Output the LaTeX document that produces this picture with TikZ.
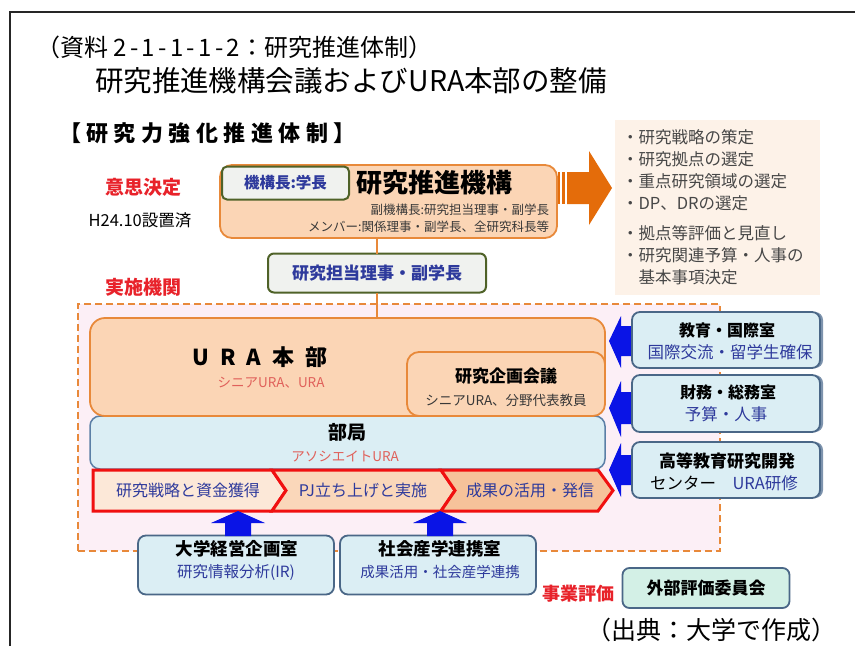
\documentclass[tikz,border=0pt]{standalone}
\usepackage{fontspec}
\setmainfont{Noto Sans CJK JP}
\usetikzlibrary{shadows}
\definecolor{peach}{HTML}{FBD5B5}
\definecolor{orb}{HTML}{E8893A}
\definecolor{ordk}{HTML}{E46C0A}
\definecolor{pinkbg}{HTML}{FCEFF6}
\definecolor{beige}{HTML}{FDF2E8}
\definecolor{lblue}{HTML}{DBEEF4}
\definecolor{slate}{HTML}{4A6787}
\definecolor{bukb}{HTML}{5B7FA6}
\definecolor{olive}{HTML}{4F6228}
\definecolor{grayg}{HTML}{F0F2EF}
\definecolor{txtblue}{HTML}{2E3A9C}
\definecolor{redt}{HTML}{E8222A}
\definecolor{salmon}{HTML}{E0605A}
\definecolor{tealbg}{HTML}{D3F0E6}
\definecolor{arrblue}{HTML}{0A14E6}
\definecolor{chevA}{HTML}{FCE8D8}
\definecolor{chevB}{HTML}{FAD7BA}
\definecolor{chevC}{HTML}{F6C29A}
\definecolor{shad}{HTML}{7D93AD}
\definecolor{chevred}{HTML}{F01010}
\newcommand\fsz[1]{\fontsize{#1}{#1}\selectfont}
\tikzset{
  obox/.style={draw=orb, fill=peach, line width=1.8pt, rounded corners=12pt},
  gbox/.style={draw=olive, fill=grayg, line width=2pt, rounded corners=6pt},
  bbox/.style={draw=slate, fill=lblue, line width=1.8pt, rounded corners=8pt},
  sbox/.style={bbox, drop shadow={shadow xshift=3pt, shadow yshift=0pt, fill=shad, opacity=1}},
  chev/.style={draw=chevred, line width=3pt, line join=miter},
  barr/.style={fill=arrblue},
  listtxt/.style={anchor=west, text=black!72},
}
\begin{document}
\begin{tikzpicture}[x=1pt,y=-1pt, every node/.style={inner sep=0pt, outer sep=0pt}]
\useasboundingbox (0,0) rectangle (855,646);
\fill[white] (0,0) rectangle (855,646);
\draw[line width=1.6pt, black!85] (10,646) -- (10,12) -- (855,12);

% headings
\node[anchor=west] (hdr) at (36,47) {\fsz{24}（資料 {\addfontfeature{LetterSpace=14}2-1-1-1-2}：研究推進体制）};
\node[anchor=west] (ttl) at (95,81) {\fsz{28.5}研究推進機構会議およびURA本部の整備};
\node[anchor=west] (sub) at (59,133) {\fsz{22}\bfseries\addfontfeature{LetterSpace=25}【研究力強化推進体制】};

% left labels
\node[text=redt] (ishi) at (143,187) {\fsz{19}\bfseries 意思決定};
\node (h24) at (140,220) {\fsz{16.5}H24.10設置済};
\node[text=redt] (jisshi) at (143,287) {\fsz{19}\bfseries 実施機関};

% list box
\node[fill=beige, minimum width=205pt, minimum height=175pt, anchor=north west] (list) at (615,120) {};
\node[listtxt] (l1) at (622,137) {\fsz{16.5}・研究戦略の策定};
\node[listtxt] (l2) at (622,159) {\fsz{16.5}・研究拠点の選定};
\node[listtxt] (l3) at (622,181) {\fsz{16.5}・重点研究領域の選定};
\node[listtxt] (l4) at (622,203) {\fsz{16.5}・DP、DRの選定};
\node[listtxt] (l5) at (622,233) {\fsz{16.5}・拠点等評価と見直し};
\node[listtxt] (l6) at (622,255) {\fsz{16.5}・研究関連予算・人事の};
\node[listtxt] (l7) at (622,277) {\fsz{16.5}\hspace{16.5pt}基本事項決定};

% orange block arrow
\fill[ordk] (558,172) rectangle (560,204);
\fill[ordk] (562,172) rectangle (565,204);
\fill[ordk] (567,172) -- (589,172) -- (589,151) -- (612,188) -- (589,225) -- (589,204) -- (567,204) -- cycle;

% implementation region
\node[draw=orb, fill=pinkbg, line width=2pt, dash pattern=on 7pt off 4pt, minimum width=642pt, minimum height=247pt, anchor=north west] (region) at (78,304) {};

% top boxes
\node[obox, minimum width=337pt, minimum height=73pt] (kikou) at (388.5,201.5) {};
\node[gbox, minimum width=127pt, minimum height=33pt, rounded corners=5pt, text=txtblue] (chou) at (285.5,183) {\fsz{15.5}\bfseries 機構長:学長};
\node[anchor=west] (kname) at (356,183) {\fsz{26}\bfseries 研究推進機構};
\node[anchor=east, text=black!78] (k2) at (549,210) {\fsz{12.5}副機構長:研究担当理事・副学長};
\node[anchor=east, text=black!78] (k3) at (549,227) {\fsz{12.5}メンバー:関係理事・副学長、全研究科長等};

\node[gbox, minimum width=218pt, minimum height=39pt, text=txtblue] (riji) at (377,273) {\fsz{17}\bfseries 研究担当理事・副学長};

% bukyoku and URA
\node[draw=bukb, fill=lblue, line width=1.5pt, rounded corners=10pt, minimum width=515pt, minimum height=53pt] (bukyoku) at (347.5,442.5) {};
\node[obox, minimum width=515pt, minimum height=98pt, rounded corners=15pt] (ura) at (347.5,367) {};
\node[obox, minimum width=198pt, minimum height=64pt] (kikaku) at (506,384) {};

\draw[orb, line width=2pt] (riji.north |- kikou.south) -- (riji.north);
\draw[orb, line width=2pt] (riji.south) -- (riji.south |- ura.north);

\node (uraname) at (260,357) {\fsz{22}\bfseries\addfontfeature{LetterSpace=50}URA本部};
\node[text=salmon] (uramem) at (271,383) {\fsz{13.5}シニアURA、URA};
\node (kikakut) at (506,376) {\fsz{17}\bfseries 研究企画会議};
\node[text=black!78] (kikakum) at (506,400) {\fsz{13.5}シニアURA、分野代表教員};
\node (bukt) at (347,432) {\fsz{19}\bfseries 部局};
\node[text=salmon] (bukm) at (345,456) {\fsz{13.5}アソシエイトURA};

% chevrons
\filldraw[chev, fill=chevA] (93,470) -- (272,470) -- (286,490.5) -- (272,511) -- (93,511) -- cycle;
\filldraw[chev, fill=chevB] (272,470) -- (441,470) -- (455,490.5) -- (441,511) -- (272,511) -- (286,490.5) -- cycle;
\filldraw[chev, fill=chevC] (441,470) -- (598,470) -- (613,490.5) -- (598,511) -- (441,511) -- (455,490.5) -- cycle;
\node[text=txtblue] (c1) at (188,490) {\fsz{16}研究戦略と資金獲得};
\node[text=txtblue] (c2) at (363,490) {\fsz{16}PJ立ち上げと実施};
\node[text=txtblue] (c3) at (530,490) {\fsz{16}成果の活用・発信};

% left-pointing blue arrows
\fill[barr] (609,341) -- (621,316) -- (621,326) -- (634,326) -- (634,356) -- (621,356) -- (621,368) -- cycle;
\fill[barr] (609,408) -- (621,381) -- (621,392) -- (634,392) -- (634,424) -- (621,424) -- (621,437) -- cycle;
\fill[barr] (609,470) -- (621,443) -- (621,455) -- (634,455) -- (634,485) -- (621,485) -- (621,497) -- cycle;

% right boxes
\node[sbox, minimum width=188pt, minimum height=56pt] (kokusai) at (726,340) {};
\node (ko1) at (727,330) {\fsz{16}\bfseries 教育・国際室};
\node[text=txtblue] (ko2) at (730,352) {\fsz{16.5}国際交流・留学生確保};
\node[sbox, minimum width=188pt, minimum height=57pt] (zaimu) at (726,403.5) {};
\node (za1) at (728,392) {\fsz{16}\bfseries 財務・総務室};
\node[text=txtblue] (za2) at (726,414) {\fsz{16.5}予算・人事};
\node[sbox, minimum width=188pt, minimum height=56pt] (koutou) at (726,470) {};
\node (kt1) at (727,461) {\fsz{17}\bfseries 高等教育研究開発};
\node (kt2) at (724,483) {\fsz{16.5}センター\quad\textcolor{txtblue}{URA研修}};

% bottom boxes
\node[bbox, minimum width=196pt, minimum height=59pt] (keiei) at (236,565) {};
\node (keieit) at (237,549) {\fsz{17.5}\bfseries 大学経営企画室};
\node[text=txtblue] (keieim) at (236,572) {\fsz{15.5}研究情報分析(IR)};
\node[bbox, minimum width=196pt, minimum height=59pt] (sangaku) at (438,565) {};
\node (sangakut) at (440,549) {\fsz{17.5}\bfseries 社会産学連携室};
\node[text=txtblue] (sangakum) at (440,572) {\fsz{14.5}成果活用・社会産学連携};

% upward blue arrows
\foreach \cx in {238,440}{
  \fill[barr] (\cx,511) -- (\cx+27,523) -- (\cx+13,523) -- (\cx+13,536) -- (\cx-13,536) -- (\cx-13,523) -- (\cx-27,523) -- cycle;
}

% evaluation
\node[text=redt] (jigyo) at (578,594) {\fsz{18}\bfseries 事業評価};
\node[draw=slate, fill=tealbg, line width=1.8pt, rounded corners=7pt, minimum width=167pt, minimum height=40pt] (gaibu) at (706,588) {\fsz{17}\bfseries 外部評価委員会};

\node[anchor=east] (src) at (836,630) {\fsz{25}（出典：大学で作成）};
\end{tikzpicture}
\end{document}
